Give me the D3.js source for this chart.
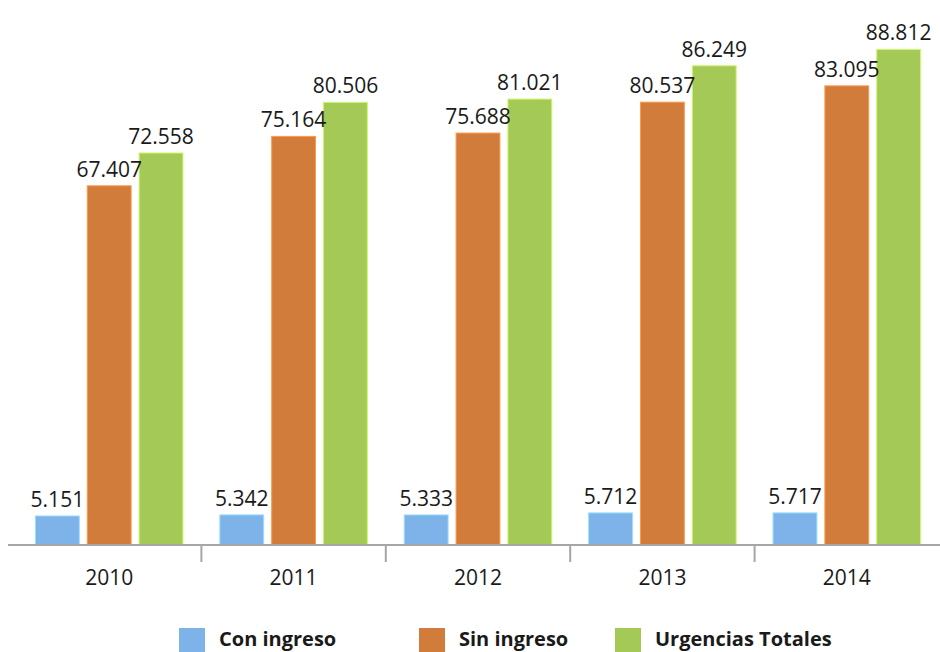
<!DOCTYPE html>
<html>
<head>
<meta charset="utf-8">
<script src="https://cdn.jsdelivr.net/npm/d3@7"></script>
<style>
  html, body { margin: 0; padding: 0; background: #fff; }
  svg { display: block; }
</style>
</head>
<body>
<svg id="chart" width="940" height="652"></svg>
<script>
// Urgencias por año: con ingreso, sin ingreso y totales
const years = ["2010", "2011", "2012", "2013", "2014"];
const seriesNames = ["Con ingreso", "Sin ingreso", "Urgencias Totales"];
const conIngreso = [5151, 5342, 5333, 5712, 5717];
const sinIngreso = [67407, 75164, 75688, 80537, 83095];
const totales = [72558, 80506, 81021, 86249, 88812];
const seriesColors = ["#7db3e8", "#d27c3c", "#a5c957"];

const seriesValues = [conIngreso, sinIngreso, totales];
const fmt = v => d3.format(",")(v).replace(/,/g, ".");

const svg = d3.select("#chart");
const baseY = 545;

// Value axis with a compressed lower segment so small and large bars both read
const y = d3.scaleLinear()
  .domain([0, 5500, 60000, 95000])
  .range([baseY, 514, 233, 10]);

const x0 = d3.scaleBand()
  .domain(years)
  .range([17, 939])
  .paddingInner(0.2)
  .paddingOuter(0.1);

const x1 = d3.scaleBand()
  .domain(seriesNames)
  .range([0, x0.bandwidth()])
  .paddingInner(8 / 52);

const rows = years.map((yr, i) => ({
  year: yr,
  items: seriesNames.map((s, k) => ({ series: s, value: seriesValues[k][i], color: seriesColors[k] }))
}));

const groups = svg.append("g").selectAll("g.year")
  .data(rows)
  .join("g")
  .attr("class", "year")
  .attr("transform", d => `translate(${x0(d.year)},0)`);

groups.selectAll("rect")
  .data(d => d.items)
  .join("rect")
  .attr("x", d => x1(d.series))
  .attr("width", x1.bandwidth())
  .attr("y", d => y(d.value))
  .attr("height", d => baseY - y(d.value))
  .attr("fill", d => d.color)
  .attr("stroke", d => d3.color(d.color).brighter(0.6))
  .attr("stroke-width", 1);

groups.selectAll("text.val")
  .data(d => d.items)
  .join("text")
  .attr("class", "val")
  .attr("x", d => x1(d.series) + x1.bandwidth() / 2)
  .attr("y", d => y(d.value) - 9)
  .attr("text-anchor", "middle")
  .attr("font-family", "'Open Sans', sans-serif")
  .attr("font-size", 21)
  .attr("fill", "#1a1a1a")
  .text(d => fmt(d.value));

// Category axis
const axis = svg.append("g");
axis.append("line")
  .attr("x1", 8).attr("x2", 940)
  .attr("y1", baseY).attr("y2", baseY)
  .attr("stroke", "#a6a6a6").attr("stroke-width", 2);

const step = x0.step();
axis.selectAll("line.tick")
  .data(years.slice(1))
  .join("line")
  .attr("class", "tick")
  .attr("x1", d => x0(d) - (step - x0.bandwidth()) / 2)
  .attr("x2", d => x0(d) - (step - x0.bandwidth()) / 2)
  .attr("y1", baseY).attr("y2", baseY + 17)
  .attr("stroke", "#a6a6a6").attr("stroke-width", 2);

axis.selectAll("text.year")
  .data(years)
  .join("text")
  .attr("class", "year")
  .attr("x", d => x0(d) + x0.bandwidth() / 2)
  .attr("y", 585)
  .attr("text-anchor", "middle")
  .attr("font-family", "'Open Sans', sans-serif")
  .attr("font-size", 21)
  .attr("fill", "#1a1a1a")
  .text(d => d);

// Legend
const legendX = [179, 419, 615];
const legend = svg.append("g").selectAll("g.item")
  .data(seriesNames)
  .join("g")
  .attr("class", "item")
  .attr("transform", (d, i) => `translate(${legendX[i]},628)`);

legend.append("rect")
  .attr("width", 26).attr("height", 24)
  .attr("fill", (d, i) => seriesColors[i]);

legend.append("text")
  .attr("x", 40)
  .attr("y", 18)
  .attr("font-family", "'Open Sans', sans-serif")
  .attr("font-weight", "bold")
  .attr("font-size", 20)
  .attr("fill", "#1a1a1a")
  .text(d => d);
</script>
</body>
</html>
